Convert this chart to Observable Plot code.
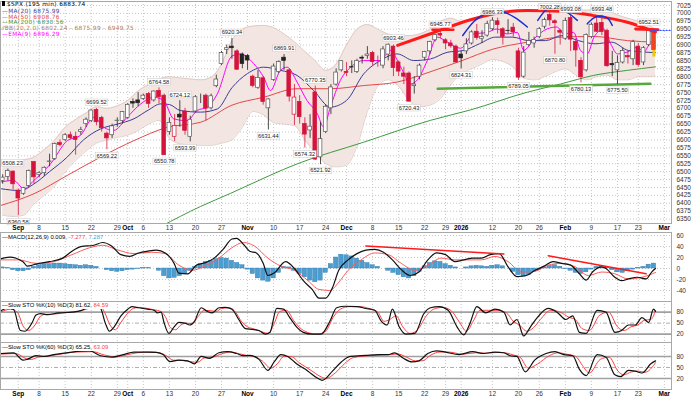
<!DOCTYPE html>
<html><head><meta charset="utf-8">
<script src="https://cdn.jsdelivr.net/npm/d3@7"></script>
<script src="https://cdn.jsdelivr.net/npm/@observablehq/plot@0.6"></script>
<style>
body{margin:0;background:#fff;font-family:"Liberation Sans",Arial,sans-serif;}
#wrap{position:relative;width:698px;height:399px;overflow:hidden;background:#fff;}
.p{position:absolute;left:0;}
.leg{position:absolute;white-space:nowrap;}
.lm{font-family:"DejaVu Sans",Verdana,sans-serif;font-size:5.8px;line-height:5.8px;letter-spacing:0.35px;}
.li{font-family:"Liberation Sans",Arial,sans-serif;font-size:5.9px;line-height:7px;background:#fff;padding-right:2px;}
</style></head><body><div id="wrap"></div>
<script>
// ---------- axis ticks ----------
const tickIdx = [3,7,12,17,22,24,27,32,37,42,47,52,57,62,66,71,76,81,85,88,94,99,103,108,113,118,122,127];
const tickLab = ["Sep","8","15","22","29","Oct","6","13","20","27","Nov","10","17","24","Dec","8","15","22","29","2026","12","20","26","Feb","9","17","23","Mar"];
const priceTicks = [6350,6375,6400,6425,6450,6475,6500,6525,6550,6575,6600,6625,6650,6675,6700,6725,6750,6775,6800,6825,6850,6875,6900,6925,6950,6975,7000,7025];
const macdTicks = [60,40,20,0,-20,-40];
const stoTicks = [80,50,20];

// ---------- daily bars (Aug 27 2025 .. Feb 26 2026) ----------
const open  = [6470,6483,6500,6440,6430,6455,6530,6490,6495,6530,6540,6590,6600,6615,6610,6625,6650,6660,6695,6670,6620,6615,6660,6660,6670,6720,6725,6730,6745,6725,6755,6740,6625,6610,6680,6690,6610,6690,6735,6740,6700,6770,6840,6885,6895,6880,6870,6865,6800,6765,6795,6700,6790,6815,6860,6820,6680,6720,6650,6630,6750,6545,6625,6700,6775,6820,6815,6830,6815,6860,6865,6875,6840,6835,6870,6895,6845,6810,6810,6770,6800,6860,6880,6915,6935,6915,6905,6895,6870,6880,6905,6942,6920,6930,6950,6975,6950,6945,6955,6880,6800,6900,6905,6925,6958,6995,6975,6945,6920,6985,6910,6850,6820,6925,6968,6970,6945,6840,6820,6845,6865,6855,6895,6845,6900,6940];
const high  = [6490,6508.23,6502,6445,6450,6505,6532,6500,6515,6555,6590,6600,6620,6625,6625,6640,6670,6695,6699.52,6675,6625,6650,6670,6690,6715,6730,6750,6745,6750,6755,6764.58,6745,6670,6680,6724.12,6700,6675,6740,6745,6745,6745,6805,6880,6900,6920.34,6885,6875,6870,6805,6820,6800,6730,6840,6850,6869.91,6825,6775,6740,6670,6680,6770.35,6655,6710,6775,6825,6850,6845,6850,6855,6866,6895,6880,6865,6895,6903.46,6900,6850,6830,6815,6800,6840,6880,6912,6935,6945.77,6920,6915,6900,6880,6920,6945,6965,6945,6975,6986.33,6985,6955,6980,6968,6890,6895,6940,6925,6955,6985,7002.28,6980,6950,6985,6993.08,6920,6860,6935,6970,6986,6993.48,6950,6880,6866,6890,6880,6915,6905,6895,6952.51,6948];
const low   = [6460,6470,6443,6360.58,6425,6450,6460,6480,6485,6515,6535,6578,6595,6600,6552,6615,6640,6655,6645,6625,6569.22,6605,6640,6650,6665,6700,6705,6725,6700,6720,6715,6550.78,6615,6595,6640,6615,6593.99,6685,6715,6660,6695,6765,6835,6870,6855,6820,6825,6820,6765,6760,6710,6631.44,6785,6810,6820,6720,6646,6650,6574.32,6605,6535,6521.92,6620,6680,6770,6815,6800,6810,6810,6840,6855,6835,6830,6825,6850,6800,6800,6775,6720.43,6745,6790,6850,6870,6910,6920,6885,6890,6843,6824.31,6870,6900,6915,6905,6925,6945,6935,6900,6935,6925,6789.05,6795,6895,6890,6920,6950,6960,6870.80,6900,6915,6880,6830,6780.13,6815,6920,6940,6930,6830,6800,6775.50,6840,6840,6835,6830,6835,6895,6862];
const close = [6481,6502,6460,6415,6448,6502,6482,6495,6512,6532,6587,6584,6615,6606,6600,6631,6664,6693,6656,6637,6605,6643,6661,6688,6711,6715,6716,6740,6714,6753,6735,6552,6654,6644,6671,6629,6664,6735,6735,6699,6738,6791,6875,6890,6890,6822,6840,6851,6771,6796,6720,6728,6832,6846,6850,6737,6734,6672,6617,6642,6538,6603,6705,6766,6813,6849,6812,6829,6849,6857,6870,6846,6840,6886,6901,6827,6816,6800,6721,6775,6835,6878,6910,6932,6930,6905,6896,6845,6858,6902,6940,6922,6925,6966,6977,6963,6926,6944,6940,6797,6876,6913,6916,6950,6979,6978,6969,6939,6976,6917,6883,6798,6932,6964,6942,6941,6833,6836,6843,6881,6861,6909,6837,6890,6946,6884];

// ---------- price labels ----------
const hiLabIdx = [1.9,18,30,34,44,54,60,75,84,94,105,109,115,124];
const hiLabVal = [6508.23,6699.52,6764.58,6724.12,6920.34,6869.91,6770.35,6903.46,6945.77,6986.33,7002.28,6993.08,6993.48,6952.51];
const loLabIdx = [3,20,31,35,51,58,61,78,88,99,106,111,118];
const loLabVal = [6360.58,6569.22,6550.78,6593.99,6631.44,6574.32,6521.92,6720.43,6824.31,6789.05,6870.80,6780.13,6775.50];

// ---------- Bollinger band (20,2) ----------
const bbIdx = [0,2,4,6,8,10,12,14,16,18,20,22,24,26,28,30,32,34,36,38,40,42,44,46,48,50,52,54,56,58,60,62,64,66,68,70,72,74,76,78,80,82,84,86,88,90,92,94,96,98,100,102,104,106,108,110,112,114,116,118,120,122,124,125.3];
const bbUp = [6527,6532,6537,6546,6570,6600,6640,6665,6685,6705,6700,6708,6725,6755,6775,6792,6800,6796,6793,6790,6798,6840,6915,6950,6960,6962,6955,6935,6910,6880,6850,6820,6840,6900,6950,6965,6950,6935,6930,6930,6935,6950,6975,6985,6975,6978,6990,7005,7010,7008,7005,7008,7018,7022,7020,7015,7010,7012,7010,6995,6985,6975,6962,6950];
const bbLo = [6362,6358,6362,6398,6425,6455,6500,6535,6565,6590,6600,6608,6615,6630,6650,6662,6605,6588,6585,6583,6583,6590,6600,6640,6690,6680,6655,6650,6645,6600,6560,6525,6515,6520,6580,6690,6770,6790,6770,6725,6705,6710,6730,6775,6810,6825,6840,6855,6848,6830,6795,6790,6800,6815,6825,6805,6790,6800,6805,6790,6790,6800,6800,6802];

// ---------- moving averages [barIndex, value] ----------
const ma20 = [[-0.4,6446],[3.4,6440],[6,6461],[9,6500],[12.4,6546],[15.5,6600],[18.8,6635],[22,6650],[25.2,6667],[28,6695],[30.3,6714],[32,6712],[34.1,6693],[38,6688],[41.2,6698],[44,6765],[47,6810],[50.1,6830],[53.3,6820],[56.5,6804],[59.7,6756],[62.9,6704],[66,6725],[69.3,6809],[72.5,6851],[75.7,6872],[78.9,6851],[82.1,6856],[85.3,6877],[88.5,6883],[91.5,6904],[94.6,6925],[97.8,6925],[101,6914],[104.2,6914],[107.3,6930],[110.5,6914],[113.7,6904],[116.9,6909],[120.1,6883],[125.3,6876]];
const ma50 = [[-0.4,6393],[6,6430],[12.4,6488],[18.8,6546],[25.2,6598],[31.6,6640],[38,6656],[44,6710],[50.1,6735],[56.5,6762],[62.9,6762],[69.3,6772],[75.7,6783],[82,6815],[88,6850],[94.3,6888],[100.7,6909],[107.1,6925],[113.5,6927],[119.9,6914],[125.3,6909]];
const ma200 = [[30.3,6326],[38,6390],[43.7,6431],[45.7,6446],[56.6,6525],[69.3,6593],[82.1,6662],[89.8,6695],[100.7,6751],[107.1,6777],[113.4,6804],[119.9,6820],[125.3,6831]];
const ema9 = [[-0.4,6467],[2.1,6472],[4.1,6446],[6,6472],[9.2,6525],[12.4,6598],[14.9,6614],[17.5,6672],[19.4,6640],[21.3,6630],[23.9,6672],[26.5,6714],[29,6735],[30.9,6725],[32.8,6667],[35.4,6661],[37.3,6693],[39.3,6704],[41.2,6746],[44,6865],[45.6,6872],[48.2,6841],[50.1,6798],[51.4,6756],[53.3,6820],[54.6,6830],[56.5,6783],[58.4,6725],[60.4,6683],[61.6,6641],[62.9,6704],[64.8,6788],[66.8,6830],[69.3,6851],[72.5,6851],[74.4,6883],[76.4,6830],[78.3,6777],[79.6,6790],[81.5,6851],[83.4,6925],[85.3,6910],[87.9,6890],[90.4,6935],[93,6940],[94.9,6951],[96.8,6935],[98.8,6940],[100,6883],[102,6920],[104.5,6951],[106.4,6957],[107.7,6935],[109.6,6940],[110.9,6883],[112.2,6872],[113.5,6925],[115.4,6951],[116.7,6904],[118,6872],[119.9,6878],[121.8,6893],[123.1,6878],[124.3,6904],[125.3,6896]];

// ---------- chart annotations [barIndex, value] ----------
const redArc = [[75.8,6899],[82,6935],[89.8,6980],[94.3,6999],[100.7,7009],[107.1,7007],[113.4,6993],[119.9,6972],[125.3,6941]];
const redTick1 = [[82.5,6948],[86.5,6948]];
const redTick2 = [[121.5,6951],[125.8,6948]];
const blueArc1 = [[88.3,6930],[90.5,6975],[92.5,6998],[94.2,7008],[96.5,7002],[98.5,6985],[100.7,6957]];
const blueArc2 = [[102.7,6978],[104.2,7010],[105.5,7020],[107.5,7012],[110.3,6978]];
const blueArc3 = [[112.2,6967],[113.4,6985],[114.7,6992],[116.1,6985],[117,6962]];
const greenNeck = [[83.5,6762],[124.3,6778]];
const lastPx = [[124.4,6946],[128.4,6946]];

// ---------- MACD (12,26,9) ----------
const macdLine = [[-0.4,17.6],[1.3,20.8],[3.9,12.5],[4.7,4.3],[6.4,8.1],[9,12.5],[11.5,18.9],[13.3,31.5],[15,39.7],[17.5,42.3],[19.2,47.3],[20.9,41],[22.7,25.2],[24.4,22],[26.1,28.3],[27.8,31.5],[29.5,33.4],[31.2,28.3],[32.9,9.4],[33.8,-8.3],[35.5,-9.6],[37.2,6.2],[38.9,10.7],[40.6,18.9],[42.3,34.7],[44,53.6],[44.9,54.9],[46.2,44.2],[47.4,31.5],[48.7,28.3],[50,9.4],[50.9,-12.7],[52.1,-8.3],[54.3,12.5],[56,0],[57.7,-22.2],[59.4,-38],[60.7,-53.8],[62,-53.8],[63.3,-34.9],[64.5,-3.3],[66.3,15.7],[68,27.1],[69.7,33.4],[71.4,34.7],[73.1,29.6],[74.8,15.7],[76.5,-2],[78.2,-12.7],[79.9,-6.4],[81.6,15.7],[83.3,28.3],[85,25.2],[86.8,12.5],[88.5,15.7],[90.2,18.9],[91.9,18.9],[93.6,25.2],[95.3,27.1],[97,3.1],[98.7,-14.6],[100.5,-12.7],[102.2,-3.3],[103.9,4.3],[105.6,12.5],[107.3,9.4],[109,6.2],[110.7,-9.6],[112,-21],[113.2,-6.4],[115,3.1],[115.8,0],[117.5,-15.9],[118.8,-22.2],[120.1,-19],[121.8,-15.9],[123.5,-19],[124.6,-6],[125.3,0]];
const macdSignal = [[-0.4,15.7],[3,15.7],[6.4,9.4],[9.8,12.5],[13.3,25.2],[16.7,37.8],[19.2,42.3],[21.8,34.7],[25.2,27.1],[28.6,29.6],[31.2,27],[33.8,6.2],[36.3,-3.3],[38.9,5],[41.5,18.9],[44,37.8],[46.2,47.3],[48.3,41],[50.9,18.9],[53.4,4.3],[56,-3.3],[58.6,-22.2],[60.7,-38],[62.8,-40],[64.5,-25],[66.3,-3.3],[68.8,15.7],[71.4,28.3],[74,25.2],[76.5,9.4],[79.1,-3.3],[81.6,6.2],[84.2,18.9],[86.8,15.7],[89.3,15.7],[91.9,15.7],[94.5,22],[97,12.5],[99.6,-6.4],[102.2,-5],[104.7,6.2],[107.3,9.4],[109.9,3.1],[112.4,-12.7],[115,-6.4],[117.5,-9.6],[120.1,-19],[122.7,-15.9],[125.3,-7.3]];
const macdHist = [2,1,-3,-5,-5,-3,3,6,8,8,9,9,8,7,6,5,6,5,3,0,-3,-5,-6,-5,-3,-2,-1,1,1,0,-4,-14,-18,-17,-14,-10,-4,3,8,12,14,17,19,18,14,10,6,-2,-10,-18,-22,-24,-18,-8,3,2,-4,-10,-16,-22,-25,-22,-8,8,20,25,24,22,18,14,10,6,3,0,-4,-8,-12,-16,-18,-14,-6,4,10,13,12,8,5,2,0,2,4,5,4,3,5,6,4,0,-6,-12,-15,-12,-6,-2,2,5,6,3,-1,-4,-8,-10,-7,-2,3,5,2,-3,-7,-8,-5,-2,1,3,7,9];
const macdTrend1 = [[69.7,41],[96.2,26.4]];
const macdTrend2 = [[104.7,23.3],[123.5,-9.6]];

// ---------- Slow stochastics ----------
const sto10K = [[-0.4,83],[0.9,91],[2.1,87],[3.4,30],[4.3,28],[5.6,50],[6.4,72],[7.3,76],[8.6,73],[10.7,78],[13.3,80],[15,84],[16.7,95],[18,97],[18.8,90],[19.7,50],[20.5,28],[21.4,40],[22.7,70],[24,88],[24.8,95],[26.1,92],[27.8,88],[29.1,85],[29.7,78],[30.4,80],[31,50],[31.9,22],[32.9,40],[33.8,52],[35,50],[35.9,45],[36.8,55],[38.1,92],[39.3,82],[40.2,78],[41.5,92],[42.7,93],[44,88],[45.3,60],[46.6,35],[47.9,33],[49.2,30],[50.4,20],[51.3,25],[52.6,90],[53.9,88],[55.1,65],[56.4,40],[57.7,25],[59.4,20],[61.1,20],[62.8,55],[64.1,92],[65.8,96],[68,95],[69.7,90],[71.4,85],[72.7,55],[73.8,45],[74.8,88],[76.1,40],[77.4,20],[79.1,22],[80.8,75],[82.1,92],[83.8,95],[85.5,85],[87.2,40],[88.5,18],[89.7,50],[91,95],[92.7,78],[94.5,88],[96.2,80],[97.4,45],[98.7,60],[100,15],[101.3,40],[102.6,65],[104.7,90],[106.4,80],[108.1,60],[109.4,70],[110.7,25],[112,22],[114.1,85],[115.8,80],[117.5,25],[118.8,30],[120.1,45],[121.4,45],[122.7,65],[124,52],[124.9,88],[125.3,82]];
const sto10D = [[-0.4,80],[1.5,88],[2.8,80],[4,40],[5,30],[6.2,45],[7.2,68],[8.2,74],[10,75],[12.5,79],[14.5,82],[16,88],[17.5,94],[18.8,95],[19.6,78],[20.6,45],[21.6,32],[22.6,50],[23.7,72],[24.8,88],[26.1,93],[27.8,90],[29.2,86],[30.3,82],[31.2,68],[32.2,38],[33.2,32],[34.2,45],[35.4,50],[36.4,48],[37.5,68],[38.7,85],[39.8,84],[41,82],[42,90],[43.5,92],[44.7,80],[45.8,55],[47,40],[48.3,34],[49.8,26],[51,22],[52,45],[53.2,82],[54.5,85],[55.8,58],[57,38],[58.5,25],[60.3,20],[62,28],[63.4,65],[64.8,88],[66.5,95],[68.6,95],[70.3,90],[72,80],[73.2,55],[74.3,60],[75.5,70],[76.8,40],[78.2,22],[79.8,35],[81.3,70],[82.7,88],[84.4,93],[86,85],[87.7,52],[89,28],[90.3,55],[91.6,85],[93.2,85],[95,85],[96.7,78],[98,55],[99.2,45],[100.6,28],[101.9,38],[103.2,60],[105.2,85],[107,80],[108.7,66],[109.9,60],[111.2,35],[112.6,30],[114.6,72],[116.3,80],[118,40],[119.3,30],[120.6,40],[121.9,45],[123.2,58],[124.4,60],[125.3,84]];
const sto60K = [[-0.4,88],[2.1,90],[3.9,70],[4.7,72],[6.4,82],[8.1,80],[9.8,85],[13.3,92],[16.7,95],[18.8,82],[21,78],[23.1,85],[25.2,92],[27.8,92],[29.5,91],[30.8,85],[32.1,66],[33.8,70],[35.5,68],[36.8,60],[38.1,80],[39.7,75],[41.5,90],[43.2,93],[44.9,88],[46.2,82],[47.4,83],[49.2,72],[50.9,42],[52.1,65],[53.4,85],[54.7,80],[56.4,60],[58.6,40],[60.3,22],[61.3,15],[63.3,40],[65,65],[66.7,80],[69.7,83],[72.2,85],[74,85],[75.2,90],[76.9,75],[78.6,65],[79.9,68],[81.6,88],[83.3,95],[85,92],[87.6,85],[90.2,93],[92.3,88],[94.5,92],[96.2,90],[97.4,82],[98.7,80],[100.3,38],[102.1,70],[104.3,88],[106,93],[107.7,85],[109.4,82],[110.7,45],[112,28],[114.1,85],[115.8,78],[117.5,30],[118.6,25],[120.1,42],[121.4,40],[122.7,35],[124.4,60],[125.3,68]];
const sto60D = [[-0.4,86],[2.5,88],[4.5,74],[5.5,72],[7,79],[8.8,81],[10.5,85],[14,92],[17.3,93],[19.5,84],[21.6,79],[23.7,84],[25.8,90],[28.4,92],[30,90],[31.4,82],[32.7,70],[34.4,69],[36,66],[37.4,64],[38.7,76],[40.3,78],[42,87],[43.8,92],[45.5,87],[46.8,83],[48,81],[49.8,68],[51.5,48],[52.7,60],[54,80],[55.3,80],[57,62],[59.2,42],[60.9,26],[62,20],[63.9,36],[65.6,60],[67.3,77],[70.3,82],[72.8,84],[74.6,85],[75.8,87],[77.5,78],[79.2,68],[80.5,68],[82.2,84],[83.9,92],[85.6,92],[88.2,86],[90.8,90],[92.9,89],[95.1,91],[96.8,89],[98,84],[99.3,78],[100.9,48],[102.7,60],[104.9,82],[106.6,90],[108.3,86],[110,80],[111.3,55],[112.6,35],[114.7,72],[116.4,78],[118.1,40],[119.2,30],[120.7,38],[122,40],[123.3,37],[124.9,55],[125.3,63]];

// ================= rendering =================
const FONT = "Liberation Sans, Arial, sans-serif";
const xDom = [-0.42, 128.37];
const labOf = new Map(tickIdx.map((t, k) => [t, tickLab[k]]));
const monthIdx = tickIdx.filter((t, k) => isNaN(+tickLab[k]) || tickLab[k] === "2026");
const dayIdx = tickIdx.filter(t => !monthIdx.includes(t));
const pts = arr => arr.map(([i, v]) => ({i, v}));
const dotted = {stroke: "#b8b8b8", strokeOpacity: 1, strokeDasharray: "1,2", strokeWidth: 0.8};
const ln = (arr, stroke, w, extra = {}) => Plot.line(pts(arr), {x: "i", y: "v", stroke, strokeWidth: w, curve: "monotone-x", clip: true, ...extra});
const base = (h, mt, mb) => ({width: 698, height: h, marginTop: mt, marginBottom: mb, marginLeft: 0, marginRight: 27,
  x: {domain: xDom, axis: null}, style: {fontFamily: FONT, fontSize: "6.5px", background: "transparent", overflow: "visible"}});
const yAx = ticks => Plot.axisY(ticks, {anchor: "right", tickSize: 0, tickPadding: 5, fontSize: 6.5, fill: "#333", textAnchor: "start", label: null, tickFormat: d => String(d)});
const xAxes = () => [
  Plot.axisX(dayIdx, {anchor: "bottom", tickSize: 0, tickPadding: 2, fontSize: 6.5, fill: "#333", label: null, tickFormat: d => labOf.get(d)}),
  Plot.axisX(monthIdx, {anchor: "bottom", tickSize: 0, tickPadding: 2, fontSize: 6.5, fontWeight: "bold", fill: "#000", label: null, tickFormat: d => labOf.get(d)})
];

const bars = close.map((c, i) => ({i, o: open[i], h: high[i], l: low[i], c,
  up: c >= open[i], down: i > 0 && c < close[i - 1], last: i === close.length - 1}));
const colOf = d => d.last ? "#ee4422" : d.down ? "#d4143c" : "#222";
const bb = bbIdx.map((i, k) => ({i, up: bbUp[k], lo: bbLo[k]}));
const hiLabs = hiLabIdx.map((i, k) => ({i, v: hiLabVal[k]}));
const loLabs = loLabIdx.map((i, k) => ({i, v: loLabVal[k]}));

const wrap = document.getElementById("wrap");

const mainPlot = Plot.plot({
  ...base(232, 1, 9),
  y: {domain: [6336, 7037.6], axis: null},
  marks: [
    Plot.gridY(priceTicks, dotted),
    Plot.gridX(tickIdx, dotted),
    Plot.areaY(bb, {x: "i", y1: "lo", y2: "up", fill: "#f2e5e2", curve: "monotone-x"}),
    Plot.line(bb, {x: "i", y: "up", stroke: "#dbc4bd", strokeWidth: 0.8, curve: "monotone-x"}),
    Plot.line(bb, {x: "i", y: "lo", stroke: "#dbc4bd", strokeWidth: 0.8, curve: "monotone-x"}),
    ln(ma200, "#3f9a3f", 1),
    ln(ma50, "#e24a4a", 1),
    ln(ma20, "#3c3c96", 1),
    ln(ema9, "#ff00ff", 1),
    ln(greenNeck, "#56a83a", 2.5, {curve: "linear"}),
    Plot.ruleX(bars, {x: "i", y1: "l", y2: "h", stroke: d => d.last ? "#f2c800" : colOf(d), strokeWidth: d => d.last ? 3 : 0.8}),
    Plot.rect(bars, {x1: d => d.i - 0.36, x2: d => d.i + 0.36, y1: "o", y2: "c",
      fill: d => d.last ? "#ee4422" : (d.up ? "#fff" : colOf(d)), stroke: d => d.last ? "#ee4422" : (d.up ? (d.down ? "#d4143c" : "#555") : colOf(d)), strokeWidth: 0.7}),
    ln(redArc, "#ff1a1a", 3),
    ln(redTick1, "#ff1a1a", 2.5, {curve: "linear"}),
    ln(redTick2, "#ff1a1a", 3, {curve: "linear"}),
    ln(blueArc1, "#1c2fd0", 1.5),
    ln(blueArc2, "#1c2fd0", 1.5),
    ln(blueArc3, "#1c2fd0", 1.5),
    ln(lastPx, "#3355ff", 1, {curve: "linear", strokeDasharray: "1.5,1.5", clip: false}),
    Plot.text(hiLabs, {x: "i", y: "v", text: d => d.v.toFixed(2), dy: -6, fontSize: 5.7, fill: "#222"}),
    Plot.text(loLabs, {x: "i", y: "v", text: d => d.v.toFixed(2), dy: 6, fontSize: 5.7, fill: "#222"}),
    yAx(priceTicks),
    ...xAxes(),
    Plot.frame({stroke: "#a8a8a8"})
  ]
});

const macdPlot = Plot.plot({
  ...base(69, 0, 0),
  y: {domain: [-60, 65.5], axis: null},
  marks: [
    Plot.gridY(macdTicks, dotted),
    Plot.gridX(tickIdx, dotted),
    Plot.rectY(macdHist.map((v, i) => ({i, v})), {x1: d => d.i - 0.42, x2: d => d.i + 0.42, y: "v", fill: "#4c9dd0", stroke: "#2e78ad", strokeWidth: 0.4}),
    ln(macdSignal, "#ff5a5a", 1),
    ln(macdLine, "#111", 1.2),
    ln(macdTrend1, "#ff1a1a", 1.5, {curve: "linear"}),
    ln(macdTrend2, "#ff1a1a", 1.5, {curve: "linear"}),
    yAx(macdTicks),
    Plot.frame({stroke: "#a8a8a8"})
  ]
});

const stoPlot = (K, D, dom, h, mb, withX) => Plot.plot({
  ...base(h, 0, mb),
  y: {domain: dom, axis: null},
  marks: [
    Plot.gridX(tickIdx, dotted),
    Plot.ruleY([80, 20], {stroke: "#a0a0a0", strokeWidth: 1.6}),
    Plot.ruleY([50], {stroke: "#999", strokeWidth: 0.8, strokeDasharray: "4,2,1,2"}),
    ln(D, "#ff4040", 1),
    ln(K, "#111", 1.2),
    yAx(stoTicks),
    ...(withX ? xAxes() : []),
    Plot.frame({stroke: "#a8a8a8"})
  ]
});
const sto10Plot = stoPlot(sto10K, sto10D, [-2.7, 109], 41, 0, false);
const sto60Plot = stoPlot(sto60K, sto60D, [-10, 118], 57, 10, true);

[[mainPlot, 0], [macdPlot, 232], [sto10Plot, 301], [sto60Plot, 342]].forEach(([svg, top]) => {
  svg.classList.add("p"); svg.style.top = top + "px"; wrap.appendChild(svg);
});

// white boxes behind value labels
mainPlot.querySelectorAll("text").forEach(t => {
  if (/^\d{4}\.\d{2}$/.test(t.textContent)) {
    const b = t.getBBox();
    const r = document.createElementNS("http://www.w3.org/2000/svg", "rect");
    r.setAttribute("x", b.x - 1); r.setAttribute("y", b.y - 0.3);
    r.setAttribute("width", b.width + 2); r.setAttribute("height", b.height + 0.6);
    r.setAttribute("fill", "#fff"); r.setAttribute("stroke", "#c8c8c8"); r.setAttribute("stroke-width", "0.5");
    if (t.getAttribute("transform")) r.setAttribute("transform", t.getAttribute("transform"));
    t.parentNode.insertBefore(r, t);
  }
});

// legends
const legends = [
  [1.2, 2, `<span style="display:inline-block;width:3px;height:5px;background:#000;margin-right:2px;vertical-align:-0.5px"></span><span style="color:#000">$SPX (195 min) 6883.74</span>`, "lm"],
  [8.8, 2, `<span style="color:#3c3c96">—MA(20) 6875.99</span>`, "lm"],
  [14.6, 2, `<span style="color:#e24a4a">—MA(50) 6908.76</span>`, "lm"],
  [20.4, 2, `<span style="color:#3f9a3f">—MA(200) 6830.56</span>`, "lm"],
  [26.2, 2, `<span style="color:#b0805e">⁄⁄BB(20,2.0) 6802.24 - 6875.99 - 6949.75</span>`, "lm"],
  [32, 2, `<span style="color:#ff00ff">—EMA(9) 6896.29</span>`, "lm"],
  [233.5, 2, `<span style="color:#000">—MACD(12,26,9) 0.009, </span><span style="color:#ff4040">-7.277, </span><span style="color:#4c9dd0">7.287</span>`, "li"],
  [301.5, 2, `<span style="color:#000">—Slow STO %K(10) %D(3) 81.62, </span><span style="color:#ff4040">84.59</span>`, "li"],
  [344, 2, `<span style="color:#000">—Slow STO %K(60) %D(3) 65.25, </span><span style="color:#ff4040">63.09</span>`, "li"]
];
legends.forEach(([top, left, html, cls]) => {
  const d = document.createElement("div");
  d.className = "leg " + cls; d.style.top = top + "px"; d.style.left = left + "px"; d.innerHTML = html;
  wrap.appendChild(d);
});
</script></body></html>
